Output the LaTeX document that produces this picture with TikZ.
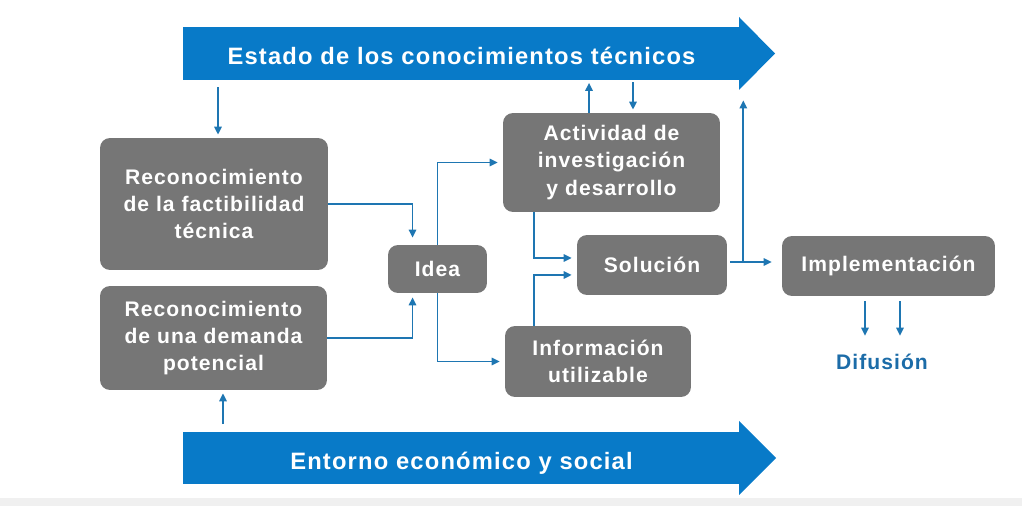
\documentclass[tikz,border=0pt]{standalone}
\usepackage{fontspec}
\setmainfont{Liberation Sans}[LetterSpace=5]
\usetikzlibrary{arrows.meta}
\definecolor{azul}{RGB}{8,122,200}
\definecolor{linea}{RGB}{30,118,178}
\definecolor{gris}{RGB}{118,118,118}
\definecolor{difu}{RGB}{28,108,168}

\begin{document}
\begin{tikzpicture}[x=0.02cm, y=-0.02cm,
  caja/.style={rounded corners=0.2cm, fill=gris, text=white, align=center, inner sep=0pt,
    font=\fontsize{12}{15.5}\selectfont\bfseries},
  banda/.style={fill=azul, text=white, inner sep=0pt, minimum width=11.14cm, minimum height=1.06cm,
    text height=0.45cm, text depth=0pt, font=\fontsize{13.5}{16}\selectfont\bfseries},
  flecha/.style={draw=linea, line width=1.05pt, -{Triangle[length=4.6pt,width=4.2pt]}}]
\useasboundingbox (0,0) rectangle (1022,506);
\fill[black!6] (0,498) rectangle (1022,506);

% bandas
\node[banda] (estado) at (461.5,53.5) {Estado de los conocimientos técnicos};
\fill[azul] (739,17) -- (775,53.5) -- (739,90) -- cycle;
\node[banda] (entorno) at (461.5,458) {Entorno económico y social};
\fill[azul] (739,421) -- (776,458) -- (739,495) -- cycle;

% cajas
\node[caja, minimum width=4.56cm, minimum height=2.64cm] (rf) at (214,204) {Reconocimiento\\de la factibilidad\\técnica};
\node[caja, minimum width=4.54cm, minimum height=2.08cm] (rd) at (213.5,338) {Reconocimiento\\de una demanda\\potencial};
\node[caja, minimum width=1.98cm, minimum height=0.96cm] (idea) at (437.5,269) {Idea};
\node[caja, minimum width=4.34cm, minimum height=1.98cm] (act) at (611.5,162.5) {Actividad de\\investigación\\y desarrollo};
\node[caja, minimum width=3cm, minimum height=1.2cm] (sol) at (652,265) {Solución};
\node[caja, minimum width=3.72cm, minimum height=1.42cm] (info) at (598,361.5) {Información\\utilizable};
\node[caja, minimum width=4.26cm, minimum height=1.2cm] (impl) at (888.5,266) {Implementación};
\node[text=difu, inner sep=0pt, font=\fontsize{12}{14}\selectfont\bfseries] (dif) at (882,362) {Difusión};

% conexiones
\draw[flecha, shorten <=0.14cm, shorten >=0.06cm] ([xshift=0.08cm]rf.north |- estado.south) -- ([xshift=0.08cm]rf.north);
\draw[flecha, shorten <=0.14cm, shorten >=0.06cm] ([xshift=0.19cm]rd.south |- entorno.north) -- ([xshift=0.19cm]rd.south);
\draw[flecha, shorten >=0.14cm] (rf.east) -| ([xshift=-0.5cm]idea.north);
\draw[flecha, shorten >=0.08cm] (rd.east) -| ([xshift=-0.5cm]idea.south);
\draw[flecha, shorten >=0.1cm] (idea.north) |- (act.west);
\draw[flecha, shorten >=0.1cm] (idea.south) |- (info.west);
\draw[flecha, shorten >=0.1cm] ([xshift=-1.55cm]act.south) |- ([yshift=0.14cm]sol.west);
\draw[flecha, shorten >=0.1cm] ([xshift=-1.28cm]info.north) |- ([yshift=-0.2cm]sol.west);
\draw[flecha, shorten >=0.05cm] ([xshift=-0.45cm]act.north) -- ([xshift=-0.45cm]act.north |- estado.south);
\draw[flecha, shorten <=0.04cm, shorten >=0.06cm] ([xshift=0.43cm]act.north |- estado.south) -- ([xshift=0.43cm]act.north);
\draw[flecha, shorten <=0.06cm, shorten >=0.2cm] ([yshift=0.06cm]sol.east) -- ([yshift=0.06cm]sol.east -| impl.west);
\coordinate (j) at ([xshift=0.32cm, yshift=0.06cm]sol.east);
\draw[flecha, shorten >=0.4cm] (j) -- (j |- estado.south);
\draw[flecha, shorten <=0.1cm, shorten >=0.36cm] ([xshift=-0.47cm]impl.south) -- ([xshift=-0.47cm]impl.south |- dif.north);
\draw[flecha, shorten <=0.1cm, shorten >=0.36cm] ([xshift=0.23cm]impl.south) -- ([xshift=0.23cm]impl.south |- dif.north);
\end{tikzpicture}
\end{document}
